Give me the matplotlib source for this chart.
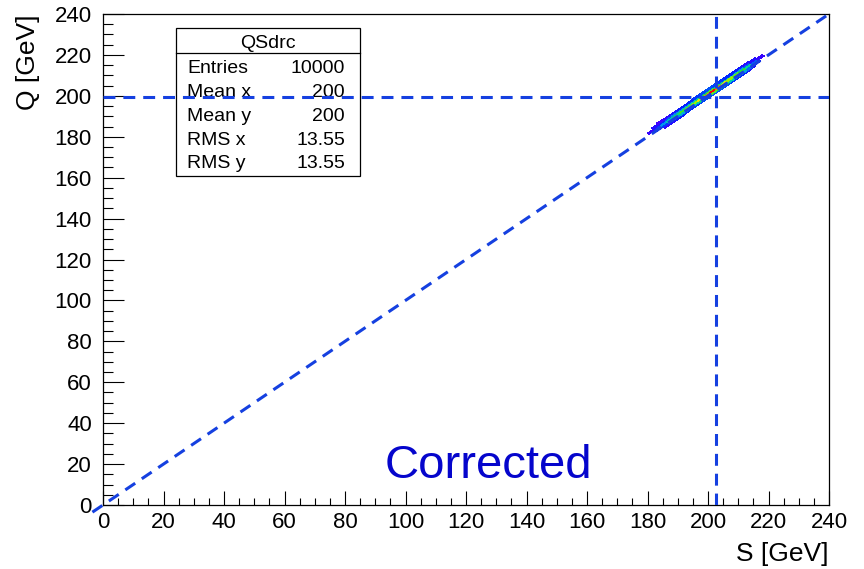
import numpy as np
import matplotlib
matplotlib.use("Agg")
import matplotlib.pyplot as plt
from matplotlib.colors import LinearSegmentedColormap
from matplotlib.patches import Rectangle

plt.rcParams['font.family'] = ['Liberation Sans', 'DejaVu Sans']

# QSdrc: 2D histogram S vs Q, band along the diagonal (bins in u=(S+Q)/2, v=Q-S)
u_edges = np.arange(181, 220, 2)
v_edges = [-1.3, -0.4, 0.8, 2.0, 2.8, 3.4]
counts_low = [0, 0, 8, 10, 12, 13, 14, 15, 16, 17, 18, 17, 16, 15, 14, 13, 11, 0, 0]
counts_mid = [0, 11, 15, 19, 22, 25, 27, 29, 32, 36, 39, 36, 32, 29, 27, 24, 19, 11, 0]
counts_core = [8, 16, 22, 28, 33, 37, 40, 43, 48, 54, 60, 55, 48, 43, 40, 36, 30, 18, 8]
counts_high = [0, 10, 14, 18, 21, 24, 26, 28, 31, 35, 38, 35, 31, 28, 26, 23, 18, 10, 0]
counts_top = [0, 0, 7, 9, 11, 12, 13, 14, 15, 16, 17, 16, 15, 14, 13, 12, 10, 0, 0]

stats_names = ["Entries", "Mean x", "Mean y", "RMS x", "RMS y"]
stats_values = ["10000", "200", "200", "13.55", "13.55"]

mean_s = 202.6
mean_q = 199.4
axis_ticks = np.arange(0, 241, 20)

# ROOT-like rainbow palette
palette = LinearSegmentedColormap.from_list("root_rainbow", [
    (0.0, '#8000ff'), (0.12, '#4000ff'), (0.22, '#0020ff'), (0.36, '#0090f0'),
    (0.48, '#00d0b0'), (0.6, '#20e040'), (0.72, '#a0f000'), (0.82, '#ffe000'),
    (0.92, '#ff7000'), (1.0, '#ff0000')])

fig = plt.figure(figsize=(8.64, 5.69), dpi=100)
ax = fig.add_axes([103 / 864, 1 - 505 / 569, 726 / 864, 491 / 569])

U, V = np.meshgrid(u_edges, v_edges)
X = U - V / 2
Y = U + V / 2
C = np.array([counts_low, counts_mid, counts_core, counts_high, counts_top], dtype=float)
C = np.ma.masked_equal(C, 0)
ax.pcolormesh(X, Y, C, cmap=palette, vmin=0, vmax=60, shading='flat',
              edgecolors='face', linewidth=0.3, zorder=2)

line_kw = dict(color='#1540e0', lw=2.2, linestyle=(0, (3.9, 2.6)), zorder=5)
ax.plot([-3.5, 240], [-3.5, 240], clip_on=False, **line_kw)
ax.plot([0, 240], [mean_q, mean_q], **line_kw)
ax.plot([mean_s, mean_s], [0, 240], **line_kw)

ax.set_xlim(0, 240)
ax.set_ylim(0, 240)
ax.set_xticks(axis_ticks)
ax.set_yticks(axis_ticks)
ax.set_xticks(np.arange(0, 241, 5), minor=True)
ax.set_yticks(np.arange(0, 241, 5), minor=True)
ax.tick_params(axis='x', which='major', direction='in', length=10, width=0.8, labelsize=16, pad=5)
ax.tick_params(axis='x', which='minor', direction='in', length=5, width=0.8)
ax.tick_params(axis='y', which='major', direction='in', length=15, width=0.8, labelsize=16, pad=8)
ax.tick_params(axis='y', which='minor', direction='in', length=7.2, width=0.8)
for sp in ax.spines.values():
    sp.set_linewidth(0.9)

fig.text(828 / 864, 1 - 561 / 569, "S [GeV]", ha='right', va='baseline', fontsize=19)
fig.text(28 / 864, 1 - 14 / 569, "Q [GeV]", ha='center', va='top', rotation=90, fontsize=19)

ax.text(93.2, 13.2, "Corrected", color='#0505cc', fontsize=34, ha='left', va='baseline', zorder=6)

# stats box
def ay(py):
    return (505 - py) / 491

bx0, bx1 = (176 - 103) / 726, (360 - 103) / 726
ax.add_patch(Rectangle((bx0, ay(176)), bx1 - bx0, ay(28) - ay(176), transform=ax.transAxes,
                       facecolor='white', edgecolor='black', lw=0.9, zorder=4))
ax.plot([bx0, bx1], [ay(53), ay(53)], transform=ax.transAxes, color='black', lw=0.9, zorder=4)
ax.text((bx0 + bx1) / 2, ay(48.3), "QSdrc", transform=ax.transAxes, ha='center',
        va='baseline', fontsize=14, zorder=4)
for i, (name, val) in enumerate(zip(stats_names, stats_values)):
    yb = ay(73.3 + 23.75 * i)
    ax.text((187 - 103) / 726, yb, name, transform=ax.transAxes, ha='left', va='baseline',
            fontsize=14, zorder=4)
    ax.text((345 - 103) / 726, yb, val, transform=ax.transAxes, ha='right', va='baseline',
            fontsize=14, zorder=4)

fig.savefig("out.png", dpi=100)
